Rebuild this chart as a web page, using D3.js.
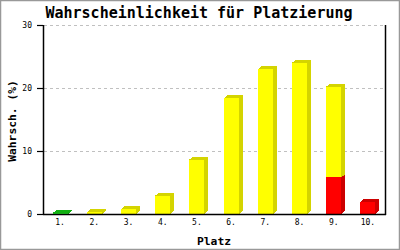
<!DOCTYPE html>
<html><head><meta charset="utf-8">
<script src="https://cdn.jsdelivr.net/npm/d3@7/dist/d3.min.js"></script>
<style>body{margin:0;background:#fff}svg{display:block}text{fill:#000}</style>
</head><body>
<svg id="c" width="400" height="250"></svg>
<script>
const categories = ["1.","2.","3.","4.","5.","6.","7.","8.","9.","10."];
const redValues    = [0,0,0,0,0,0,0,0,5.8,1.9];
const yellowValues = [0,0.3,0.8,2.9,8.6,18.4,23.0,24.0,14.4,0];
const greenValues  = [0.2,0,0,0,0,0,0,0,0,0];
const yTicks = [0,10,20,30];
const title = "Wahrscheinlichkeit für Platzierung";
const xTitle = "Platz";
const yTitle = "Wahrsch. (%)";

const series = [
  {key:"red", values:redValues, front:"#ff0000", side:"#cc0000"},
  {key:"yellow", values:yellowValues, front:"#ffff00", side:"#d4d400"},
  {key:"green", values:greenValues, front:"#22dd22", side:"#11b011"}
];

const svg = d3.select("#c");
const mono = "'DejaVu Sans Mono', 'Liberation Mono', monospace";
const L = 43, R = 385, T = 25, B = 214;
const x = d3.scaleBand().domain(categories).range([L, R]);
const y = d3.scaleLinear().domain([0, 30]).range([B, T]);

svg.append("rect").attr("x",0.5).attr("y",0.5).attr("width",399).attr("height",249)
  .attr("fill","none").attr("stroke","#999").attr("stroke-width",1.5);

svg.append("g").selectAll("line").data(yTicks.filter(d=>d>0)).join("line")
  .attr("x1", L+1).attr("x2", R).attr("y1", d=>Math.round(y(d))+0.5).attr("y2", d=>Math.round(y(d))+0.5)
  .attr("stroke","#c0c0c0").attr("stroke-dasharray","3,3");

const dx = 4, dy = 3, bw = 15;
const g = svg.append("g").attr("shape-rendering","crispEdges");
categories.forEach((cat, i) => {
  let base = 0;
  const cx = x(cat) + x.bandwidth()/2;
  const x0 = Math.round(cx - bw/2), x1 = x0 + bw;
  series.forEach(s => {
    const v = s.values[i];
    if (v <= 0) return;
    const yb = y(base), yt = y(base + v);
    g.append("polygon").attr("points", [[x1,yb],[x1+dx,yb-dy],[x1+dx,yt-dy],[x1,yt]].map(p=>p.join(",")).join(" "))
      .attr("fill", s.side);
    g.append("polygon").attr("points", [[x0,yt],[x1,yt],[x1+dx,yt-dy],[x0+dx,yt-dy]].map(p=>p.join(",")).join(" "))
      .attr("fill", s.side);
    g.append("rect").attr("x", x0).attr("y", yt).attr("width", bw).attr("height", yb-yt).attr("fill", s.front);
    base += v;
  });
});

svg.append("line").attr("x1",L+0.5).attr("x2",L+0.5).attr("y1",T).attr("y2",B+1).attr("stroke","#000").attr("stroke-width",1.5);
svg.append("line").attr("x1",L).attr("x2",R+1).attr("y1",B+0.5).attr("y2",B+0.5).attr("stroke","#000").attr("stroke-width",1.5);
svg.append("line").attr("x1",R+0.5).attr("x2",R+0.5).attr("y1",T).attr("y2",B+1).attr("stroke","#000").attr("stroke-width",1.5);

const yAxis = svg.append("g");
yTicks.forEach(t => {
  const yy = Math.round(y(t)) + 0.5;
  yAxis.append("line").attr("x1", 37).attr("x2", L).attr("y1", yy).attr("y2", yy).attr("stroke","#000").attr("stroke-width",1.2);
  yAxis.append("text").attr("x", 32).attr("y", yy).attr("dy","0.35em").attr("text-anchor","end")
    .attr("font-family", mono).attr("font-size", 8).attr("fill","#000").text(t);
});

svg.append("g").selectAll("text").data(categories).join("text")
  .attr("x", d => x(d) + x.bandwidth()/2).attr("y", 225).attr("text-anchor","middle")
  .attr("font-family", mono).attr("font-size", 8).attr("fill","#000").text(d=>d);

svg.append("text").attr("x", 199).attr("y", 18).attr("text-anchor","middle")
  .attr("font-family", mono).attr("font-weight","bold").attr("font-size", 15).attr("fill","#000").text(title);
svg.append("text").attr("x", 214).attr("y", 245).attr("text-anchor","middle")
  .attr("font-family", mono).attr("font-weight","bold").attr("font-size", 11.3).attr("fill","#000").text(xTitle);
svg.append("text").attr("transform","translate(16,121) rotate(-90)").attr("text-anchor","middle")
  .attr("font-family", mono).attr("font-weight","bold").attr("font-size", 11.3).attr("fill","#000").text(yTitle);
</script>
</body></html>
